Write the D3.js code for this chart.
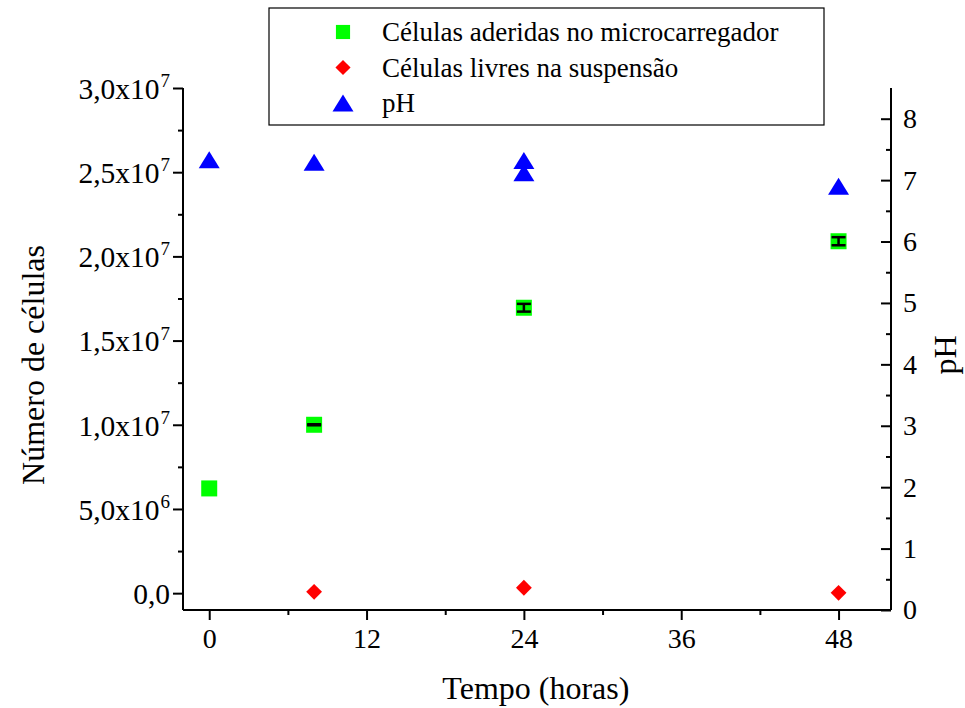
<!DOCTYPE html>
<html>
<head>
<meta charset="utf-8">
<script src="https://d3js.org/d3.v7.min.js"></script>
<style>
body{margin:0;background:#fff;}
svg text{font-family:"Liberation Serif","Times New Roman",serif;fill:#000;}
</style>
</head>
<body>
<div id="chart"></div>
<script>
var w = 965;
var h = 708;

// data
var horas = [0, 8, 24, 48];
var aderidas = [6.22e6, 1.0e7, 1.695e7, 2.09e7];
var aderidasErr = [0, 0.03e6, 0.23e6, 0.24e6];
var livresHoras = [8, 24, 48];
var livres = [0.08e6, 0.32e6, 0.02e6];
var phHoras = [0, 8, 24, 24, 48];
var ph = [7.33, 7.29, 7.32, 7.12, 6.90];

var xTicks = [0, 12, 24, 36, 48];
var yTicks = [0, 5e6, 1e7, 1.5e7, 2e7, 2.5e7, 3e7];
var phTicks = [0, 1, 2, 3, 4, 5, 6, 7, 8];
var legendLabels = ["Células aderidas no microcarregador", "Células livres na suspensão", "pH"];

// plot frame (window.top is reserved, so no "top" here)
var pL = 183, pR = 891, pT = 88, pB = 610;

var svg = d3.select("#chart").append("svg")
    .attr("width", w)
    .attr("height", h);

var x = d3.scaleLinear().domain([-2, 52]).range([pL, pR]);
var y = d3.scaleLinear().domain([-1e6, 3e7]).range([pB, pT]);
var yPh = d3.scaleLinear().domain([0, 8.5]).range([pB, pT]);

function fmtCells(v) {
    if (v === 0) return ["0,0", ""];
    var e = Math.floor(Math.log10(v) + 1e-9);
    var m = (v / Math.pow(10, e)).toFixed(1).replace(".", ",");
    return [m + "x10", "" + e];
}

// minor ticks first
svg.append("g")
    .attr("transform", "translate(" + pL + ",0)")
    .call(d3.axisLeft(y).tickValues(d3.range(2.5e6, 3e7, 5e6)).tickSize(5).tickFormat(""))
    .call(function(g){ g.select(".domain").remove(); g.selectAll("line").attr("stroke-width", 2); });

svg.append("g")
    .attr("transform", "translate(0," + pB + ")")
    .call(d3.axisBottom(x).tickValues([6, 18, 30, 42]).tickSize(5).tickFormat(""))
    .call(function(g){ g.select(".domain").remove(); g.selectAll("line").attr("stroke-width", 2); });

svg.append("g")
    .attr("transform", "translate(" + pR + ",0)")
    .call(d3.axisRight(yPh).tickValues(d3.range(0.5, 8.5, 1)).tickSize(-5).tickFormat(""))
    .call(function(g){ g.select(".domain").remove(); g.selectAll("line").attr("stroke-width", 2); });

// left axis
var gl = svg.append("g")
    .attr("transform", "translate(" + pL + ",0)")
    .call(d3.axisLeft(y).tickValues(yTicks).tickSize(10).tickPadding(4).tickFormat(""));
gl.select(".domain").attr("d", "M0," + pT + "V" + pB).attr("stroke-width", 2);
gl.selectAll("line").attr("stroke-width", 2);
gl.selectAll(".tick text").remove();
gl.selectAll(".tick").each(function(d) {
    var f = fmtCells(d);
    var t = d3.select(this).append("text")
        .attr("x", -13)
        .attr("dy", "0.35em")
        .attr("text-anchor", "end")
        .style("font-size", "29.5px");
    t.append("tspan").text(f[0]);
    if (f[1]) t.append("tspan").attr("dx", 1).attr("dy", "-0.62em").style("font-size", "19px").text(f[1]);
});

// bottom axis
var gb = svg.append("g")
    .attr("transform", "translate(0," + pB + ")")
    .call(d3.axisBottom(x).tickValues(xTicks).tickSize(10).tickPadding(8));
gb.select(".domain").attr("d", "M" + pL + ",0H" + pR).attr("stroke-width", 2);
gb.selectAll("line").attr("stroke-width", 2);
gb.selectAll("text").style("font-size", "28px");

// right axis (ticks inward)
var gr = svg.append("g")
    .attr("transform", "translate(" + pR + ",0)")
    .call(d3.axisRight(yPh).tickValues(phTicks).tickSize(-10).tickPadding(12));
gr.select(".domain").attr("d", "M0," + pT + "V" + pB).attr("stroke-width", 2);
gr.selectAll("line").attr("stroke-width", 2);
gr.selectAll("text").style("font-size", "28px");

svg.selectAll("g").attr("font-family", null).attr("font-size", null);

// axis titles
svg.append("text")
    .attr("transform", "translate(44," + ((pT + pB) / 2 + 16) + ")rotate(-90)")
    .attr("text-anchor", "middle")
    .style("font-size", "32px")
    .text("Número de células");

svg.append("text")
    .attr("transform", "translate(956," + ((pT + pB) / 2 + 6) + ")rotate(-90)")
    .attr("text-anchor", "middle")
    .style("font-size", "32px")
    .text("pH");

svg.append("text")
    .attr("x", (x(0) + x(48)) / 2 + 12)
    .attr("y", 699)
    .attr("text-anchor", "middle")
    .style("font-size", "32px")
    .text("Tempo (horas)");

// marker shapes
var sq = d3.symbol().type(d3.symbolSquare).size(256);
var dia = d3.symbol().type(d3.symbolSquare).size(125);
function tri(wd, ht) {
    return "M0," + (-ht / 2) + "L" + (wd / 2) + "," + (ht / 2) + "L" + (-wd / 2) + "," + (ht / 2) + "Z";
}

// pH
svg.append("g").selectAll("path")
    .data(ph)
    .enter().append("path")
    .attr("d", tri(21, 17))
    .attr("transform", function(d, i) { return "translate(" + x(phHoras[i]) + "," + yPh(d) + ")"; })
    .attr("fill", "#0000ff");

// adhered cells
var ga = svg.append("g");
ga.selectAll("path")
    .data(aderidas)
    .enter().append("path")
    .attr("d", sq)
    .attr("transform", function(d, i) { return "translate(" + x(horas[i]) + "," + y(d) + ")"; })
    .attr("fill", "#00ff00");

// error bars
var eb = ga.selectAll("g.err")
    .data(aderidas.map(function(d, i) { return {t: horas[i], v: d, e: aderidasErr[i]}; }).filter(function(d) { return d.e > 0; }))
    .enter().append("g")
    .attr("class", "err")
    .attr("stroke", "#000")
    .attr("stroke-width", 2.5);
eb.append("line")
    .attr("x1", function(d) { return x(d.t); }).attr("x2", function(d) { return x(d.t); })
    .attr("y1", function(d) { return y(d.v + d.e); }).attr("y2", function(d) { return y(d.v - d.e); });
eb.append("line")
    .attr("x1", function(d) { return x(d.t) - 7; }).attr("x2", function(d) { return x(d.t) + 7; })
    .attr("y1", function(d) { return y(d.v + d.e); }).attr("y2", function(d) { return y(d.v + d.e); });
eb.append("line")
    .attr("x1", function(d) { return x(d.t) - 7; }).attr("x2", function(d) { return x(d.t) + 7; })
    .attr("y1", function(d) { return y(d.v - d.e); }).attr("y2", function(d) { return y(d.v - d.e); });

// free cells
svg.append("g").selectAll("path")
    .data(livres)
    .enter().append("path")
    .attr("d", dia)
    .attr("transform", function(d, i) { return "translate(" + x(livresHoras[i]) + "," + y(d) + ")rotate(45)"; })
    .attr("fill", "#ff0000");

// legend
var lg = svg.append("g");
lg.append("rect")
    .attr("x", 269).attr("y", 8)
    .attr("width", 555).attr("height", 117)
    .attr("fill", "#fff")
    .attr("stroke", "#000")
    .attr("stroke-width", 1.2);

var rows = lg.selectAll("g.row")
    .data(legendLabels)
    .enter().append("g")
    .attr("class", "row")
    .attr("transform", function(d, i) { return "translate(343," + (32 + i * 35.5) + ")"; });

rows.append("path")
    .attr("d", function(d, i) {
        if (i === 0) return d3.symbol().type(d3.symbolSquare).size(200)();
        if (i === 1) return d3.symbol().type(d3.symbolSquare).size(115)();
        return tri(21, 17);
    })
    .attr("transform", function(d, i) { return i === 1 ? "rotate(45)" : null; })
    .attr("fill", function(d, i) { return ["#00ff00", "#ff0000", "#0000ff"][i]; });

rows.append("text")
    .attr("x", 39)
    .attr("dy", "0.35em")
    .style("font-size", "27px")
    .text(function(d) { return d; });
</script>
</body>
</html>
